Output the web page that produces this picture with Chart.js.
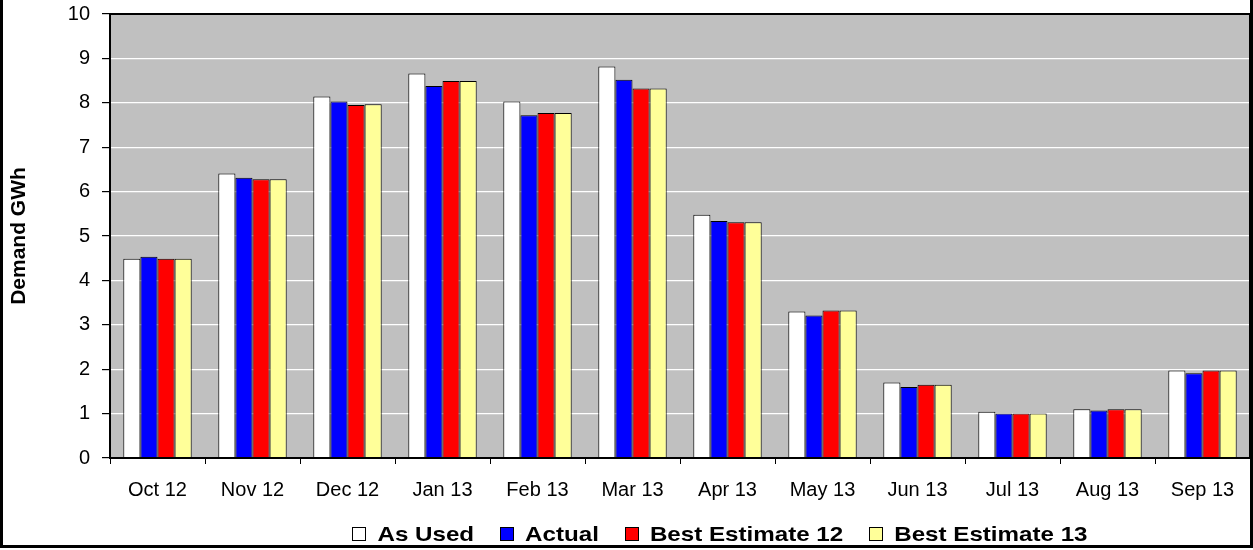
<!DOCTYPE html>
<html>
<head>
<meta charset="utf-8">
<title>Demand GWh</title>
<script src="https://cdn.jsdelivr.net/npm/chart.js@4.4.0/dist/chart.umd.min.js"></script>
<style>
    html, body { margin: 0; padding: 0; background: #fff; }
    #wrap { position: relative; width: 1253px; height: 550px; }
</style>
</head>
<body>
<div id="wrap"><canvas id="demandChart"></canvas></div>
<script>
// Monthly demand, GWh
const MONTHS = ['Oct 12', 'Nov 12', 'Dec 12', 'Jan 13', 'Feb 13', 'Mar 13',
                'Apr 13', 'May 13', 'Jun 13', 'Jul 13', 'Aug 13', 'Sep 13'];
const AS_USED = [4.49, 6.41, 8.14, 8.66, 8.03, 8.82, 5.48, 3.30, 1.70, 1.04, 1.10, 1.97];
const ACTUAL  = [4.53, 6.31, 8.03, 8.38, 7.72, 8.52, 5.34, 3.21, 1.60, 1.00, 1.07, 1.91];
const BEST_12 = [4.49, 6.28, 7.95, 8.49, 7.77, 8.32, 5.31, 3.32, 1.65, 1.00, 1.10, 1.97];
const BEST_13 = [4.49, 6.28, 7.97, 8.49, 7.77, 8.32, 5.31, 3.32, 1.65, 1.00, 1.10, 1.97];
const Y_MIN = 0;
const Y_MAX = 10;
const Y_STEP = 1;

const FONT = "'Liberation Sans', Arial, sans-serif";
const PLOT_BG = '#C0C0C0';
const PLOT_TOP = 14;
const PLOT_BOTTOM = 458;   // y of the category axis
const Y_AXIS_WIDTH = 110;
const LEGEND_CX = 720;     // legend row centre
const LEGEND_CY = 534;
const LEGEND_STRETCH = 1.15;

// grey plot background + black frame, plus the outer box
const plotFrame = {
    id: 'plotFrame',
    beforeDraw(chart) {
        const { ctx, chartArea: a } = chart;
        ctx.save();
        ctx.fillStyle = '#fff';
        ctx.fillRect(0, 0, chart.width, chart.height);
        ctx.fillStyle = PLOT_BG;
        ctx.fillRect(a.left, a.top, a.right - a.left, a.bottom - a.top);
        ctx.restore();
    },
    afterDatasetsDraw(chart) {
        const { ctx, chartArea: a } = chart;
        ctx.save();
        ctx.strokeStyle = '#000';
        ctx.lineWidth = 2;
        ctx.strokeRect(a.left, a.top, a.right - a.left, a.bottom - a.top);
        ctx.lineWidth = 3;
        ctx.beginPath();
        ctx.moveTo(1.5, 0);
        ctx.lineTo(1.5, chart.height - 3.5);
        ctx.lineTo(chart.width - 1.5, chart.height - 3.5);
        ctx.lineTo(chart.width - 1.5, 0);
        ctx.stroke();
        ctx.restore();
    }
};

// one-row legend under the axis, boxes with black outline, wide bold text
const bottomLegend = {
    id: 'bottomLegend',
    afterDraw(chart) {
        const ctx = chart.ctx;
        const box = 14, gap = 11, spacing = 26;
        ctx.save();
        ctx.font = 'bold 21px ' + FONT;
        const items = chart.data.datasets.map(ds => {
            const tw = ctx.measureText(ds.label).width * LEGEND_STRETCH;
            return { text: ds.label, color: ds.backgroundColor, w: box + gap + tw };
        });
        const total = items.reduce((s, it) => s + it.w, 0) + spacing * (items.length - 1);
        let x = LEGEND_CX - total / 2;
        ctx.textBaseline = 'middle';
        ctx.textAlign = 'left';
        items.forEach(it => {
            const bx = Math.round(x);
            ctx.fillStyle = it.color;
            ctx.fillRect(bx, LEGEND_CY - box / 2, box, box);
            ctx.strokeStyle = '#000';
            ctx.lineWidth = 1;
            ctx.strokeRect(bx + 0.5, LEGEND_CY - box / 2 + 0.5, box - 1, box - 1);
            ctx.save();
            ctx.translate(x + box + gap, LEGEND_CY + 1);
            ctx.scale(LEGEND_STRETCH, 1);
            ctx.fillStyle = '#000';
            ctx.fillText(it.text, 0, 0);
            ctx.restore();
            x += it.w + spacing;
        });
        ctx.restore();
    }
};

function series(label, data, color) {
    return {
        label: label,
        data: data,
        backgroundColor: color,
        borderColor: '#000',
        borderWidth: 1,
        borderSkipped: 'start',
        categoryPercentage: 0.72,
        barPercentage: 1.0
    };
}

new Chart(document.getElementById('demandChart'), {
    type: 'bar',
    data: {
        labels: MONTHS,
        datasets: [
            series('As Used', AS_USED, '#FFFFFF'),
            series('Actual', ACTUAL, '#0000FF'),
            series('Best Estimate 12', BEST_12, '#FF0000'),
            series('Best Estimate 13', BEST_13, '#FFFF99')
        ]
    },
    options: {
        responsive: true,
        maintainAspectRatio: false,
        animation: false,
        layout: { padding: { top: PLOT_TOP, right: 3, left: 0, bottom: 0 } },
        plugins: {
            legend: { display: false },
            tooltip: { enabled: false }
        },
        scales: {
            x: {
                grid: { display: true, drawOnChartArea: false, tickColor: '#000', tickLength: 6, offset: true },
                border: { color: '#000', width: 2 },
                ticks: { color: '#000', padding: 14, font: { family: FONT, size: 20 } },
                afterFit(scale) { scale.height = scale.chart.height - PLOT_BOTTOM; }
            },
            y: {
                min: Y_MIN,
                max: Y_MAX,
                grid: { color: '#FFFFFF', lineWidth: 1.2, tickColor: '#000', tickLength: 8 },
                border: { color: '#000', width: 2 },
                ticks: { stepSize: Y_STEP, color: '#000', padding: 12, font: { family: FONT, size: 20 } },
                title: {
                    display: true,
                    text: 'Demand GWh',
                    color: '#000',
                    padding: { top: 7, bottom: 0 },
                    font: { family: FONT, size: 21, weight: 'bold' }
                },
                afterFit(scale) {
                    scale.width = Y_AXIS_WIDTH;
                    scale.paddingTop = 0;
                    scale.paddingBottom = 0;
                }
            }
        }
    },
    plugins: [plotFrame, bottomLegend]
});
</script>
</body>
</html>
